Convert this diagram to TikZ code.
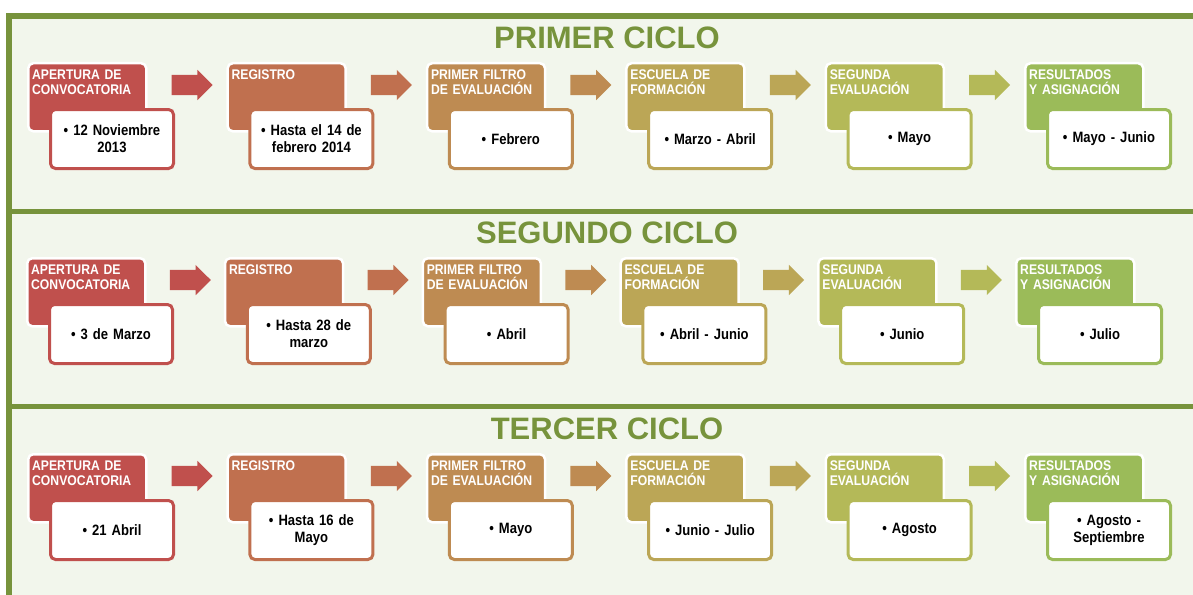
\documentclass[tikz,border=0pt]{standalone}
\usepackage{fontspec}
\setmainfont{Liberation Sans}
\newfontfamily\narrowfont[FakeStretch=0.87,WordSpace=0.75]{Liberation Sans}
\usepackage{xcolor}
\usetikzlibrary{shapes.arrows,positioning,calc}

\definecolor{marco}{HTML}{77933C}
\definecolor{fondo}{HTML}{F2F6EC}
\definecolor{paso1}{HTML}{C0504D}
\definecolor{paso2}{HTML}{C0704F}
\definecolor{paso3}{HTML}{BE8B52}
\definecolor{paso4}{HTML}{BBA656}
\definecolor{paso5}{HTML}{B4B958}
\definecolor{paso6}{HTML}{9BBB59}

\tikzset{
	panel/.style={draw=marco,fill=fondo,line width=5.5pt},
	titulo/.style={text=marco,font=\bfseries\fontsize{31}{31}\selectfont},
	cabeza/.style={rectangle,rounded corners=5pt,draw=white,line width=2.5pt,fill=#1,minimum width=118pt,minimum height=68pt,anchor=north west},
	etiqueta/.style={anchor=north west,inner sep=0pt,text width=108pt,align=left,text=white,font=\narrowfont\bfseries\fontsize{14}{15}\selectfont},
	fecha/.style={rectangle,rounded corners=5pt,draw=#1,line width=3pt,fill=white,minimum width=123pt,minimum height=59pt,text width=114pt,align=center,inner sep=0pt,font=\narrowfont\bfseries\fontsize{15}{17}\selectfont,anchor=north west},
	flecha/.style={single arrow,fill=#1,minimum height=41pt,inner xsep=0pt,inner ysep=10pt,single arrow head extend=5pt,single arrow head indent=0pt},
}

\begin{document}
\begin{tikzpicture}[x=1pt,y=-1pt]
\useasboundingbox (0,0) rectangle (1193,594);
\clip (0,0) rectangle (1193,594);
\foreach \ri/\ya/\yb in {1/16/211.5,2/211.5/406.5,3/406.5/700}
	\draw[panel] (9,\ya) rectangle (1260,\yb);
\foreach \ri/\yy/\xx/\dx/\ttl/\dA/\dB/\dC/\dD/\dE/\dF in {
	1/61/26/199.4/PRIMER CICLO/{12 Noviembre\\2013}/{Hasta el 14 de\\febrero 2014}/Febrero/Marzo - Abril/Mayo/Mayo - Junio,
	2/256/25/197.8/SEGUNDO CICLO/3 de Marzo/{Hasta 28 de\\marzo}/Abril/Abril - Junio/Junio/Julio,
	3/452/26/199.4/TERCER CICLO/21 Abril/{Hasta 16 de\\Mayo}/Mayo/Junio - Julio/Agosto/{Agosto -\\Septiembre}}{
	\node[titulo] (t\ri) at (607,{\yy-23}) {\ttl};
	\foreach \ci/\hd/\dd in {1/{APERTURA DE\\CONVOCATORIA}/\dA,2/REGISTRO/\dB,3/{PRIMER FILTRO\\DE EVALUACIÓN}/\dC,4/{ESCUELA DE\\FORMACIÓN}/\dD,5/{SEGUNDA\\EVALUACIÓN}/\dE,6/{RESULTADOS\\Y ASIGNACIÓN}/\dF}{
		\node[cabeza=paso\ci] (h\ri\ci) at ({\xx+\dx*(\ci-1)+1},{\yy+1}) {};
		\node[etiqueta] (l\ri\ci) at ([shift={(5,8)}]h\ri\ci.north west) {\hd};
		\node[fecha=paso\ci] (b\ri\ci) at ([shift={(22,46)}]h\ri\ci.north west) {• \dd};
	}
	\foreach \ci [evaluate=\ci as \cn using int(\ci+1)] in {1,...,5}
		\node[flecha=paso\ci] (a\ri\ci) at ($(h\ri\ci.north east)!.5!(h\ri\cn.north west)+(0,23)$) {};
}
\end{tikzpicture}
\end{document}
